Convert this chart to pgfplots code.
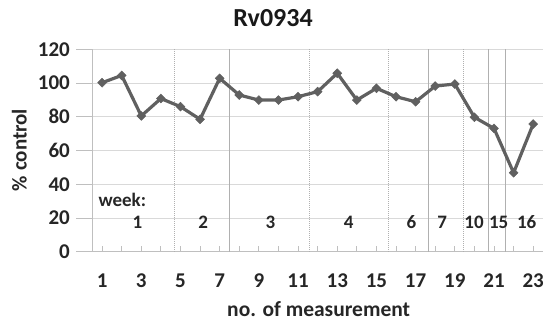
\documentclass[border=0pt]{standalone}
\usepackage{pgfplots}
\pgfplotsset{compat=1.18}
\usepackage{fontspec}
\setmainfont{Carlito}
\definecolor{txt}{HTML}{262626}
\definecolor{dataline}{HTML}{606060}
\definecolor{gridgray}{HTML}{D9D9D9}
\definecolor{axisgray}{HTML}{BFBFBF}
\definecolor{weekgray}{HTML}{B0B0B0}
\begin{document}
\begin{tikzpicture}
\begin{axis}[
  scale only axis, width=450.7bp, height=202.4bp,
  xmin=0.5, xmax=23.5, ymin=0, ymax=120,
  axis x line=bottom, axis y line=left,
  axis line style={draw=axisgray, line width=1bp, -},
  clip=false,
  ytick={0,20,...,120},
  ymajorgrids, grid style={draw=gridgray, line width=0.8bp},
  xtick={1,3,...,23}, minor xtick={2,4,...,22},
  tick align=inside, major tick length=6bp, minor tick length=6bp,
  xtick style={draw=axisgray, line width=0.8bp},
  minor x tick style={draw=axisgray, line width=0.8bp},
  ytick style={draw=none},
  /pgf/number format/assume math mode=true,
  ticklabel style={font=\fontsize{21bp}{21bp}\selectfont\bfseries, text=txt},
  xticklabel style={anchor=base, yshift=-35.6bp},
  yticklabel style={anchor=east, inner sep=0pt, xshift=-22.3bp},
]
% y tick marks outside
\pgfplotsinvokeforeach{0,20,40,60,80,100,120}{
  \draw[axisgray, line width=0.8bp] (axis cs:0.5,#1) -- ++(-7bp,0);
}
% week separator lines
\foreach \xx in {7.5,17.65,20.7,21.6}{
  \edef\temp{\noexpand\draw[weekgray, line width=1bp] (axis cs:\xx,0) -- (axis cs:\xx,120);}
  \temp
}
\foreach \xx in {4.71,11.58,15.64,19.43}{
  \edef\temp{\noexpand\draw[weekgray, line width=1bp, densely dotted] (axis cs:\xx,0) -- (axis cs:\xx,120);}
  \temp
}
\addplot[color=dataline, line width=3.2bp, mark=square*, mark size=3.1bp,
  mark options={solid, rotate=45, fill=dataline, draw=dataline, line width=0.6bp}]
  coordinates {
  (1,100.2) (2,104.5) (3,80.5) (4,90.8) (5,86) (6,78.5) (7,102.8) (8,92.9)
  (9,89.9) (10,89.9) (11,91.9) (12,94.9) (13,105.8) (14,89.9) (15,96.9)
  (16,91.9) (17,88.9) (18,98.2) (19,99.4) (20,79.7) (21,73.1) (22,46.8) (23,75.7)
  };
% week labels
\begin{scope}[every node/.style={font=\fontsize{19bp}{19bp}\selectfont\bfseries, text=txt, inner sep=0pt}]
\node[anchor=base west] at (axis cs:0.81,26.7) {week:};
\node[anchor=base] at (axis cs:2.80,13.87) {1};
\node[anchor=base] at (axis cs:6.16,13.87) {2};
\node[anchor=base] at (axis cs:9.59,13.87) {3};
\node[anchor=base] at (axis cs:13.59,13.87) {4};
\node[anchor=base] at (axis cs:16.78,13.87) {6};
\node[anchor=base] at (axis cs:18.35,13.87) {7};
\node[anchor=base] at (axis cs:19.98,13.87) {10};
\node[anchor=base] at (axis cs:21.24,13.87) {15};
\node[anchor=base] at (axis cs:22.67,13.87) {16};
\end{scope}
\end{axis}
\node[anchor=base, inner sep=0pt, font=\fontsize{26bp}{26bp}\selectfont\bfseries, text=black!90]
  at ([shift={(180.7bp,225bp)}]current axis.south west) {Rv0934};
\node[anchor=base, inner sep=0pt, rotate=90, font=\fontsize{21bp}{21bp}\selectfont\bfseries, text=txt]
  at ([shift={(-65.6bp,101.7bp)}]current axis.south west) {\% control};
\node[anchor=base, inner sep=0pt, font=\fontsize{21.5bp}{21.5bp}\selectfont\bfseries, text=txt]
  at ([shift={(226.4bp,-65bp)}]current axis.south west) {no. of measurement};
\path ([shift={(-92.3bp,-75.3bp)}]current axis.south west) rectangle ([shift={(456.7bp,251.7bp)}]current axis.south west);
\end{tikzpicture}
\end{document}
